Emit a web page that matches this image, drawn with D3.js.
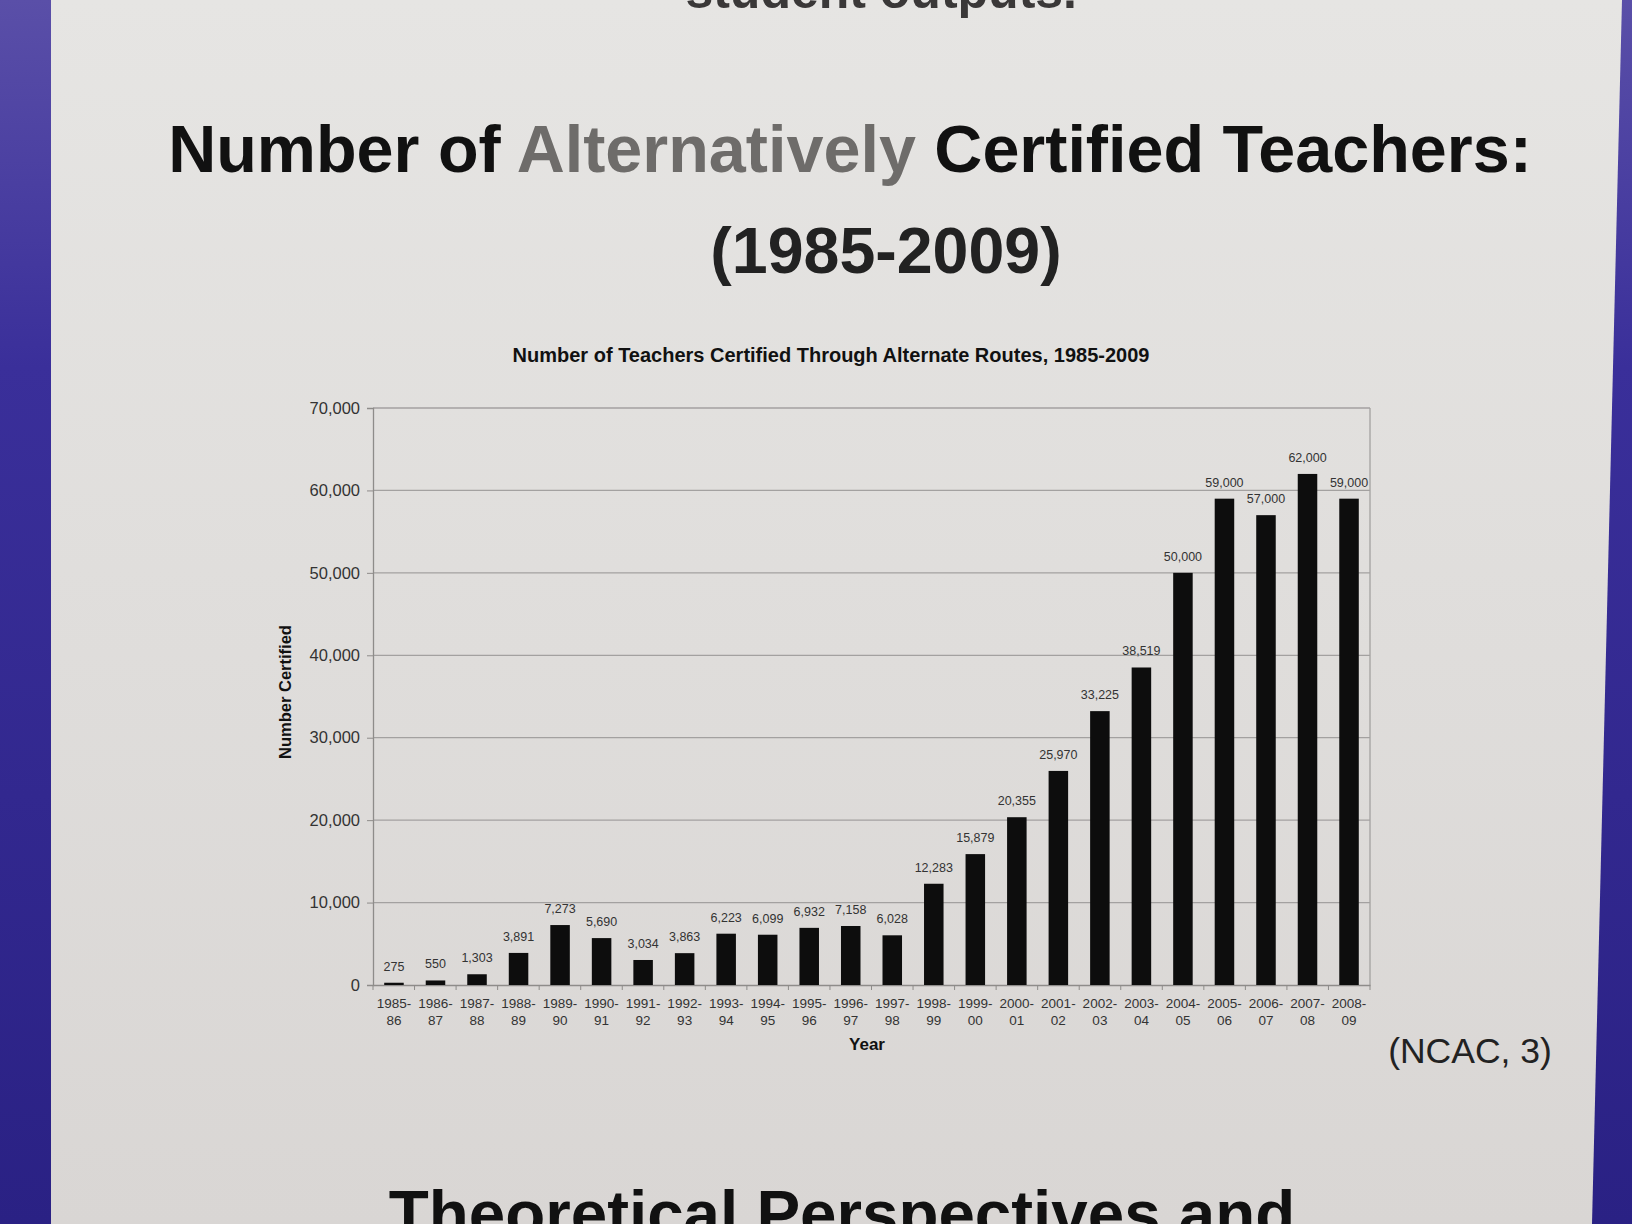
<!DOCTYPE html>
<html>
<head>
<meta charset="utf-8">
<script src="https://cdn.jsdelivr.net/npm/d3@7"></script>
<style>
  html, body { margin: 0; padding: 0; background: #dcdad8; }
  svg { display: block; }
  text { font-family: "Liberation Sans", Arial, sans-serif; }
</style>
</head>
<body>
<svg id="chart" width="1632" height="1224"></svg>
<script>
const categories = ["1985-86","1986-87","1987-88","1988-89","1989-90","1990-91","1991-92","1992-93",
  "1993-94","1994-95","1995-96","1996-97","1997-98","1998-99","1999-00","2000-01","2001-02",
  "2002-03","2003-04","2004-05","2005-06","2006-07","2007-08","2008-09"];
const values = [275,550,1303,3891,7273,5690,3034,3863,6223,6099,6932,7158,6028,12283,15879,
  20355,25970,33225,38519,50000,59000,57000,62000,59000];
const yTicks = [0,10000,20000,30000,40000,50000,60000,70000];

const svg = d3.select("#chart");
const W = 1632, H = 1224;

// poster background
const defs = svg.append("defs");
const bg = defs.append("linearGradient").attr("id","paper")
  .attr("x1",0).attr("y1",0).attr("x2",0).attr("y2",1);
bg.append("stop").attr("offset","0%").attr("stop-color","#e6e5e3");
bg.append("stop").attr("offset","100%").attr("stop-color","#d9d6d4");
svg.append("rect").attr("width",W).attr("height",H).attr("fill","url(#paper)");

const blue = defs.append("linearGradient").attr("id","blue")
  .attr("x1",0).attr("y1",0).attr("x2",0).attr("y2",1);
blue.append("stop").attr("offset","0%").attr("stop-color","#5a4fa8");
blue.append("stop").attr("offset","30%").attr("stop-color","#3a2f9a");
blue.append("stop").attr("offset","100%").attr("stop-color","#2a2184");
svg.append("rect").attr("x",0).attr("y",0).attr("width",51).attr("height",H).attr("fill","url(#blue)");
svg.append("polygon").attr("points",`1622,0 ${W},0 ${W},${H} 1592,${H}`).attr("fill","url(#blue)");

// top cut-off text
svg.append("text").attr("x",1077).attr("y",8).attr("text-anchor","end")
  .attr("font-size",50).attr("font-weight","bold").attr("fill","#3a3838").text("student outputs.");

// main title
const t1 = svg.append("text").attr("x",850).attr("y",172).attr("text-anchor","middle")
  .attr("font-size",66.5).attr("font-weight","bold").attr("fill","#111");
t1.append("tspan").text("Number of ");
t1.append("tspan").attr("fill","#6e6c6a").text("Alternatively");
t1.append("tspan").text(" Certified Teachers:");
svg.append("text").attr("x",886).attr("y",273).attr("text-anchor","middle")
  .attr("font-size",64.5).attr("font-weight","bold").attr("fill","#222").text("(1985-2009)");

// chart subtitle
svg.append("text").attr("x",831).attr("y",362).attr("text-anchor","middle")
  .attr("font-size",20).attr("font-weight","bold").attr("fill","#111")
  .text("Number of Teachers Certified Through Alternate Routes, 1985-2009");

// plot
const L = 373, R = 1370, T = 408, B = 985;
const x = d3.scaleBand().domain(categories).range([L,R]).paddingInner(0.53).paddingOuter(0.27);
const y = d3.scaleLinear().domain([0,70000]).range([B,T]);

const g = svg.append("g");
// gridlines
g.selectAll(".grid").data(yTicks.filter(d=>d>0)).join("line")
  .attr("x1",L).attr("x2",R).attr("y1",d=>y(d)).attr("y2",d=>y(d))
  .attr("stroke","#a3a1a0").attr("stroke-width",1.3);
// right border
g.append("line").attr("x1",R).attr("x2",R).attr("y1",T).attr("y2",B)
  .attr("stroke","#a3a1a0").attr("stroke-width",1.3);

// y axis
const yAxis = d3.axisLeft(y).tickValues(yTicks).tickSize(6).tickPadding(7)
  .tickFormat(d3.format(","));
const ya = g.append("g").attr("transform",`translate(${L},0)`).call(yAxis);
ya.select(".domain").attr("stroke","#8e8c8a").attr("stroke-width",1.3);
ya.selectAll(".tick line").attr("stroke","#8e8c8a");
ya.selectAll(".tick text").attr("font-size",16.5).attr("fill","#333")
  .attr("font-family","Liberation Sans, Arial, sans-serif");

// x axis
const xAxis = d3.axisBottom(x).tickSize(0).tickPadding(10).tickFormat("");
const xa = g.append("g").attr("transform",`translate(0,${B})`).call(xAxis);
xa.select(".domain").attr("stroke","#8e8c8a").attr("stroke-width",1.3);
// tick marks between categories
g.selectAll(".xt").data(d3.range(categories.length+1)).join("line")
  .attr("x1",i=>L+i*(R-L)/categories.length).attr("x2",i=>L+i*(R-L)/categories.length)
  .attr("y1",B).attr("y2",B+5).attr("stroke","#8e8c8a");
// two-line tick labels
xa.selectAll(".tick").each(function(d){
  const parts = d.split("-");
  const t = d3.select(this).append("text").attr("fill","#333").attr("font-size",13.5)
    .attr("text-anchor","middle").attr("font-family","Liberation Sans, Arial, sans-serif");
  t.append("tspan").attr("x",0).attr("y",23).text(parts[0]+"-");
  t.append("tspan").attr("x",0).attr("y",40).text(parts[1]);
});

// bars
g.selectAll(".bar").data(values).join("rect")
  .attr("x",(d,i)=>x(categories[i])).attr("width",x.bandwidth())
  .attr("y",d=>y(d)).attr("height",d=>B-y(d)).attr("fill","#0d0d0d");

// value labels
g.selectAll(".vl").data(values).join("text")
  .attr("x",(d,i)=>x(categories[i])+x.bandwidth()/2).attr("y",d=>y(d)-12)
  .attr("text-anchor","middle").attr("font-size",12.5).attr("fill","#333")
  .text(d=>d3.format(",")(d));

// axis titles
svg.append("text").attr("transform","translate(291,692) rotate(-90)").attr("text-anchor","middle")
  .attr("font-size",16.5).attr("font-weight","bold").attr("fill","#111").text("Number Certified");
svg.append("text").attr("x",867).attr("y",1050).attr("text-anchor","middle")
  .attr("font-size",17).attr("font-weight","bold").attr("fill","#111").text("Year");

// source
svg.append("text").attr("x",1470).attr("y",1063).attr("text-anchor","middle")
  .attr("font-size",35.5).attr("fill","#222").text("(NCAC, 3)");

// bottom heading (cut off)
svg.append("text").attr("x",842).attr("y",1236).attr("text-anchor","middle")
  .attr("font-size",65.5).attr("font-weight","bold").attr("fill","#111").text("Theoretical Perspectives and");
</script>
</body>
</html>
